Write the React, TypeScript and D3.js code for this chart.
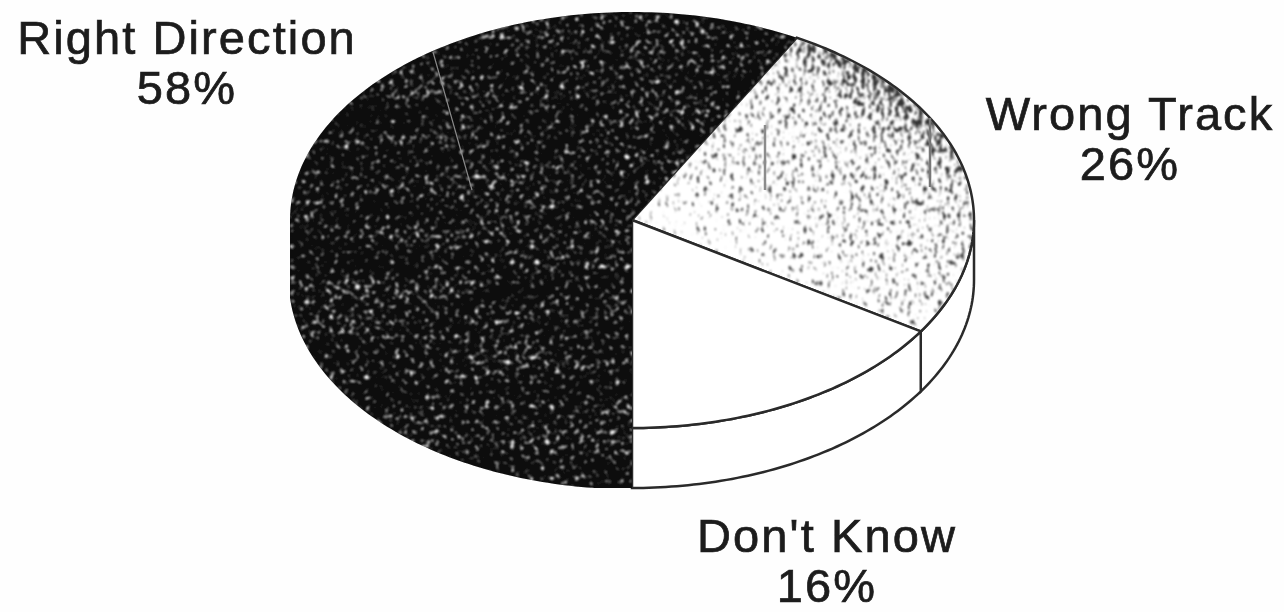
import * as d3 from "d3";

const categories = ["Wrong Track", "Don't Know", "Right Direction"];
const shares = [26, 16, 58];
const percentLabels = ["26%", "16%", "58%"];

const WIDTH = 1284;
const HEIGHT = 612;
const DEPTH = 60;
const FONT = "'Liberation Sans', Arial, sans-serif";
const INK = "#2a2a2a";

// unit circle -> squashed ellipse of the pie's top face
const xScale = d3.scaleLinear().domain([-1, 1]).range([290, 974]);
const yScale = d3.scaleLinear().domain([-1, 1]).range([428, 12]);

const start = Math.PI - ((shares[0] + shares[1]) / 100) * 2 * Math.PI;
const pie = d3
  .pie<number>()
  .sort(null)
  .startAngle(start)
  .endAngle(start + 2 * Math.PI);
const slices = pie(shares);

const angleSteps = (a0: number, a1: number) => {
  const n = Math.max(2, Math.ceil((a1 - a0) * 60));
  return d3.range(n + 1).map((i) => a0 + ((a1 - a0) * i) / n);
};

const px = (a: number) => xScale(Math.sin(a));
const py = (a: number) => yScale(Math.cos(a));

const line = d3
  .line<number>()
  .x(px)
  .y(py);

function topPath(a0: number, a1: number) {
  const rim = line(angleSteps(a0, a1)) as string;
  return `M${xScale(0)},${yScale(0)}L${rim.slice(1)}Z`;
}

// side wall, only the front half of the pie is visible
function wallPath(a0: number, a1: number) {
  const lo = Math.max(a0, Math.PI / 2);
  const hi = Math.min(a1, (3 * Math.PI) / 2);
  if (hi <= lo) return null;
  const area = d3
    .area<number>()
    .x(px)
    .y0(py)
    .y1((a) => py(a) + DEPTH);
  return area(angleSteps(lo, hi));
}

const labelPos = [
  { x: 1130, y0: 130, y1: 180 },
  { x: 827, y0: 552, y1: 602 },
  { x: 187, y0: 54, y1: 104 },
];

const fills = ["#ffffff", "#ffffff", "#0a0a0a"];

export default function App() {
  return (
    <svg
      width={WIDTH}
      height={HEIGHT}
      style={{ position: "fixed", left: 0, top: 0, background: "#fefefe" }}
    >
      <defs>
        <filter id="soft" x="-5%" y="-5%" width="110%" height="110%">
          <feGaussianBlur stdDeviation="0.7" />
        </filter>
        {/* white flecks on the black slice, thinned out a bit in wavy bands */}
        <filter id="flecks" colorInterpolationFilters="sRGB" x="0" y="0" width="100%" height="100%">
          <feTurbulence type="fractalNoise" baseFrequency="0.2" numOctaves="3" seed="7" />
          <feColorMatrix
            type="matrix"
            values="1 0 0 0 0  0 1 0 0 0  0 0 1 0 0  0 0 0 0 1"
            result="fine"
          />
          <feTurbulence type="fractalNoise" baseFrequency="0.007 0.04" numOctaves="2" seed="11" />
          <feColorMatrix
            type="matrix"
            values="1 0 0 0 0  0 1 0 0 0  0 0 1 0 0  0 0 0 0 1"
            result="bands"
          />
          <feComposite in="fine" in2="bands" operator="arithmetic" k1="0" k2="1" k3="0.18" k4="-0.09" />
          <feColorMatrix
            type="matrix"
            values="0 0 0 0 1  0 0 0 0 1  0 0 0 0 1  5 0 0 0 -2.95"
          />
          <feGaussianBlur stdDeviation="0.8" result="spots" />
          <feComposite in="spots" in2="SourceAlpha" operator="in" result="clipped" />
          <feMerge>
            <feMergeNode in="SourceGraphic" />
            <feMergeNode in="clipped" />
          </feMerge>
        </filter>
        {/* black grain, the gradient in the source drives how dense it gets */}
        <filter id="grain" colorInterpolationFilters="sRGB" x="0" y="0" width="100%" height="100%">
          <feTurbulence type="fractalNoise" baseFrequency="0.26 0.15" numOctaves="2" seed="3" />
          <feColorMatrix
            type="matrix"
            values="1 0 0 0 0  0 1 0 0 0  0 0 1 0 0  0 0 0 0 1"
            result="n"
          />
          <feComposite in="n" in2="SourceGraphic" operator="arithmetic" k1="0" k2="1" k3="1" k4="0" />
          <feColorMatrix
            type="matrix"
            values="0 0 0 0 0.2  0 0 0 0 0.2  0 0 0 0 0.2  6 0 0 0 -4.1"
          />
          <feGaussianBlur stdDeviation="0.8" result="spots" />
          <feComposite in="spots" in2="SourceAlpha" operator="in" />
        </filter>
        <linearGradient
          id="density"
          gradientUnits="userSpaceOnUse"
          x1={740}
          y1={300}
          x2={900}
          y2={70}
        >
          <stop offset="0" stopColor="#000000" />
          <stop offset="0.3" stopColor="#161616" />
          <stop offset="0.78" stopColor="#242424" />
          <stop offset="1" stopColor="#5a5a5a" />
        </linearGradient>
      </defs>

      <g filter="url(#soft)">
        {/* walls */}
        {slices.map((s, i) => {
          const d = wallPath(s.startAngle, s.endAngle);
          if (!d) return null;
          return (
            <path
              key={categories[i]}
              d={d}
              fill={fills[i]}
              stroke={i === 2 ? fills[2] : INK}
              strokeWidth={2.5}
              filter={i === 2 ? "url(#flecks)" : undefined}
            />
          );
        })}

        {/* top faces */}
        {slices.map((s, i) => (
          <path
            key={categories[i]}
            d={topPath(s.startAngle, s.endAngle)}
            fill={fills[i]}
            stroke={i === 2 ? "none" : INK}
            strokeWidth={2.5}
            filter={i === 2 ? "url(#flecks)" : undefined}
          />
        ))}
        <path
          d={topPath(slices[0].startAngle, slices[0].endAngle)}
          fill="url(#density)"
          filter="url(#grain)"
        />

        {/* scan marks */}
        <line x1={433} y1={52} x2={472} y2={190} stroke="#8a8a8a" strokeWidth={1.2} />
        <line x1={765} y1={125} x2={765} y2={190} stroke="#8c8c8c" strokeWidth={2.5} />
        <line x1={930} y1={118} x2={930} y2={187} stroke="#777777" strokeWidth={2.5} />

        {/* labels */}
        {categories.map((c, i) => (
          <g
            key={c}
            fontFamily={FONT}
            fontSize={47}
            letterSpacing={2.1}
            fill="#1c1c1c"
            stroke="#1c1c1c"
            strokeWidth={0.7}
            textAnchor="middle"
          >
            <text x={labelPos[i].x} y={labelPos[i].y0}>
              {c}
            </text>
            <text x={labelPos[i].x} y={labelPos[i].y1}>
              {percentLabels[i]}
            </text>
          </g>
        ))}
      </g>
    </svg>
  );
}
